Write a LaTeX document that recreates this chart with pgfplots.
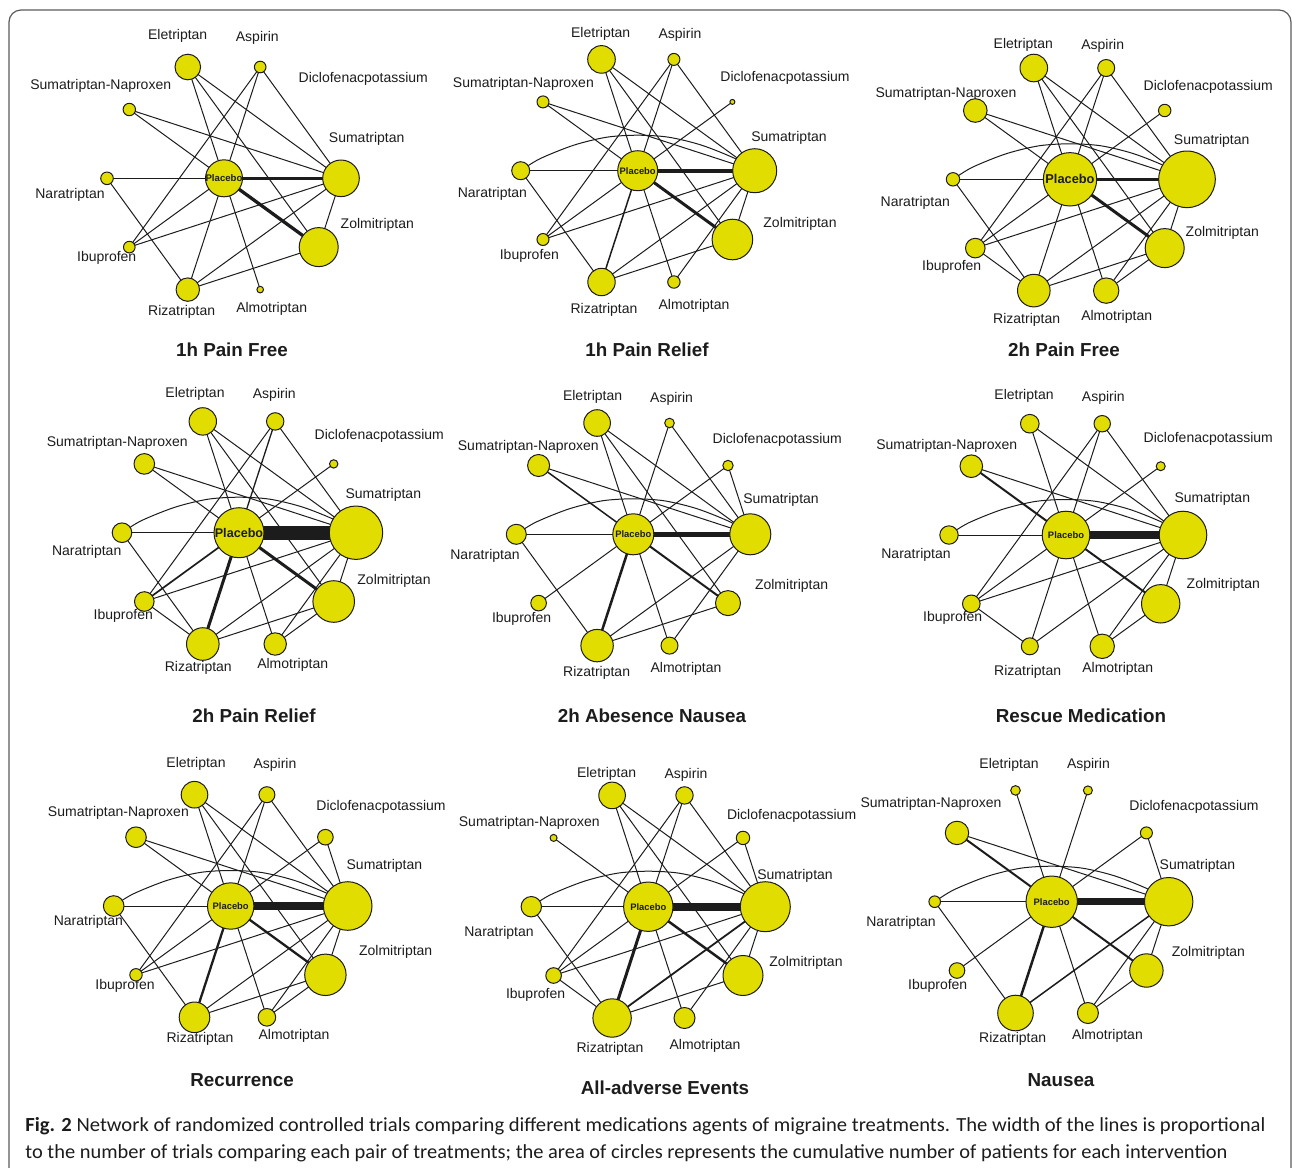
\documentclass[border=0pt]{standalone}
\usepackage{graphicx}
\usepackage{pgfplots}
\usepackage{pgfplotstable}
\pgfplotsset{compat=1.18}
\usepackage{fontspec}
\setmainfont{Liberation Sans}
\newfontfamily\capfont{Carlito}
\definecolor{nodefill}{RGB}{226,221,0}
\definecolor{inkcol}{RGB}{28,28,28}
\definecolor{framecol}{RGB}{90,90,90}

% treatment positions (px, y downwards), Placebo in the middle
\def\xPl{0}\def\yPl{0}
\def\xSu{117}\def\ySu{0}
\def\xDi{94.7}\def\yDi{-68.8}
\def\xAs{36.2}\def\yAs{-111.3}
\def\xEl{-36.2}\def\yEl{-111.3}
\def\xSN{-94.7}\def\ySN{-68.8}
\def\xNa{-117}\def\yNa{0}
\def\xIb{-94.7}\def\yIb{68.8}
\def\xRi{-36.2}\def\yRi{111.3}
\def\xAl{36.2}\def\yAl{111.3}
\def\xZo{94.7}\def\yZo{68.8}

% one comparison: line between two treatments, width ~ number of trials
\newcommand\edge[3][0.5pt]{%
  \edef\edgetmp{\noexpand\addplot[draw=inkcol, line width=#1]
    coordinates {(\csname x#2\endcsname,\csname y#2\endcsname)
                 (\csname x#3\endcsname,\csname y#3\endcsname)};}%
  \edgetmp}
% Naratriptan--Sumatriptan comparison drawn as an arc over Placebo
\newcommand\arcNaSu{\addplot[draw=inkcol, line width=0.5pt, smooth]
  coordinates {(-117,0) (-97.7,-12) (-64,-25.5) (-31,-33.5) (0,-35.5)
               (31,-33.5) (64,-25.5) (97.7,-12) (117,0)};}
% circles, area ~ number of patients
\newcommand\nodes[1]{\addplot[scatter, only marks, mark=*, line width=0.5pt,
  scatter/use mapped color={draw=inkcol, fill=nodefill},
  visualization depends on={0.5*\thisrow{r} \as \rad},
  scatter/@pre marker code/.append style={/tikz/mark size=\rad}]
  table[x=x, y=y] {#1};}
\newcommand\lblfont{\fontsize{7}{8.4}\selectfont}
\newcommand\lab[3]{\node[font=\lblfont, text=inkcol, inner sep=0pt] at (axis cs:#1,#2) {#3};}
\newcommand\ttl[3]{\node[font=\bfseries\fontsize{9.4}{11}\selectfont, text=inkcol, inner sep=0pt] at (axis cs:#1,#2) {#3};}
\newcommand\plc[1]{\node[font=\bfseries\fontsize{#1}{#1}\selectfont, text=inkcol, inner sep=0pt] at (axis cs:0,0) {Placebo};}

\pgfplotsset{net/.style={hide axis, clip=false, anchor=center,
  x=0.5pt, y=0.5pt, y dir=reverse,
  xmin=-200, xmax=200, ymin=-200, ymax=200},
  placebo/.style={after end axis/.append code={\plc{#1}}}}

% patients per treatment (circle radius, px)
\pgfplotstableread{
id x y r
Pl 0 0 18.5
Su 117 0 18.3
As 36.2 -111.3 5.8
El -36.2 -111.3 12.8
SN -94.7 -68.8 6.2
Na -117 0 6.3
Ib -94.7 68.8 5.8
Ri -36.2 111.3 11.7
Al 36.2 111.3 3.3
Zo 94.7 68.8 19.5
}\netA
\pgfplotstableread{
id x y r
Pl 0 0 20
Su 117 0 22
Di 94.7 -68.8 2.5
As 36.2 -111.3 6
El -36.2 -111.3 13.8
SN -94.7 -68.8 6
Na -117 0 9
Ib -94.7 68.8 6
Ri -36.2 111.3 13.7
Al 36.2 111.3 6.2
Zo 94.7 68.8 20.3
}\netB
\pgfplotstableread{
id x y r
Pl 0 0 26.7
Su 117 0 28.3
Di 94.7 -68.8 6.2
As 36.2 -111.3 8.5
El -36.2 -111.3 13.8
SN -94.7 -68.8 11.8
Na -117 0 6.7
Ib -94.7 68.8 9.8
Ri -36.2 111.3 16.3
Al 36.2 111.3 12.7
Zo 94.7 68.8 19.5
}\netC
\pgfplotstableread{
id x y r
Pl 0 0 25
Su 117 0 26.7
Di 94.7 -68.8 4.2
As 36.2 -111.3 8.7
El -36.2 -111.3 13.7
SN -94.7 -68.8 10.3
Na -117 0 9.8
Ib -94.7 68.8 9.8
Ri -36.2 111.3 16.3
Al 36.2 111.3 11.2
Zo 94.7 68.8 20.8
}\netD
\pgfplotstableread{
id x y r
Pl 0 0 20.5
Su 117 0 20.5
Di 94.7 -68.8 5.2
As 36.2 -111.3 4.8
El -36.2 -111.3 13.3
SN -94.7 -68.8 11
Na -117 0 10
Ib -94.7 68.8 7.8
Ri -36.2 111.3 16.2
Al 36.2 111.3 8.5
Zo 94.7 68.8 12.5
}\netE
\pgfplotstableread{
id x y r
Pl 0 0 23.8
Su 117 0 23.8
Di 94.7 -68.8 4.5
As 36.2 -111.3 8.2
El -36.2 -111.3 9.3
SN -94.7 -68.8 11.3
Na -117 0 9.2
Ib -94.7 68.8 8.8
Ri -36.2 111.3 8.5
Al 36.2 111.3 12.2
Zo 94.7 68.8 19.2
}\netF
\pgfplotstableread{
id x y r
Pl 0 0 23.2
Su 117 0 24.3
Di 94.7 -68.8 7.8
As 36.2 -111.3 8
El -36.2 -111.3 13.3
SN -94.7 -68.8 10.3
Na -117 0 10.3
Ib -94.7 68.8 6.2
Ri -36.2 111.3 15.3
Al 36.2 111.3 8.8
Zo 94.7 68.8 20.7
}\netG
\pgfplotstableread{
id x y r
Pl 0 0 24.7
Su 117 0 25
Di 94.7 -68.8 6.7
As 36.2 -111.3 8.7
El -36.2 -111.3 13.3
SN -94.7 -68.8 3.5
Na -117 0 10.2
Ib -94.7 68.8 7.8
Ri -36.2 111.3 19.2
Al 36.2 111.3 10.5
Zo 94.7 68.8 20
}\netH
\pgfplotstableread{
id x y r
Pl 0 0 25.7
Su 117 0 24.2
Di 94.7 -68.8 6
As 36.2 -111.3 4.5
El -36.2 -111.3 4.8
SN -94.7 -68.8 11.7
Na -117 0 5.8
Ib -94.7 68.8 7.8
Ri -36.2 111.3 17.8
Al 36.2 111.3 10.5
Zo 94.7 68.8 16.7
}\netI

\begin{document}
\begin{tikzpicture}[x=0.5pt, y=-0.5pt]
\useasboundingbox (0,0) rectangle (1292,1168);
\draw[framecol, line width=0.6pt, rounded corners=6pt] (9,1180) -- (9,10) -- (1291,10) -- (1291,1180);

% ---- 1h Pain Free
\begin{axis}[net, at={(112pt,-89.15pt)}, placebo=4.8]
\edge[1.65pt]{Pl}{Su} \edge[1.65pt]{Pl}{Zo}
\edge{Pl}{Na} \edge{Pl}{El} \edge{Pl}{As} \edge{Pl}{SN} \edge{Pl}{Ib} \edge{Pl}{Ri} \edge{Pl}{Al}
\edge{El}{Su} \edge{El}{Zo} \edge{As}{Su} \edge{As}{Ib} \edge{SN}{Su} \edge{Na}{Ri}
\edge{Ib}{Su} \edge{Ri}{Su} \edge{Ri}{Zo} \edge{Su}{Zo}
\nodes{\netA}
\lab{-46.3}{-142.3}{Eletriptan} \lab{33.3}{-140}{Aspirin} \lab{139.3}{-99}{Diclofenacpotassium}
\lab{-123.3}{-92.3}{Sumatriptan-Naproxen} \lab{142.7}{-39}{Sumatriptan} \lab{-154}{16.7}{Naratriptan}
\lab{153.3}{46.7}{Zolmitriptan} \lab{-117.3}{79.7}{Ibuprofen} \lab{-42.3}{134}{Rizatriptan} \lab{47.7}{131}{Almotriptan}
\ttl{8}{171.7}{1h Pain Free}
\end{axis}

% ---- 1h Pain Relief
\begin{axis}[net, at={(318.85pt,-85.35pt)}, placebo=4.7]
\edge[2pt]{Pl}{Su} \edge[1.5pt]{Pl}{Zo} \edge[0.75pt]{Pl}{Ri}
\arcNaSu
\edge{Pl}{Na} \edge{Pl}{El} \edge{Pl}{As} \edge{Pl}{SN} \edge{Pl}{Di} \edge{Pl}{Ib} \edge{Pl}{Al}
\edge{El}{Su} \edge{El}{Zo} \edge{As}{Su} \edge{As}{Ib} \edge{SN}{Su} \edge{Na}{Ri}
\edge{Ib}{Su} \edge{Ri}{Su} \edge{Ri}{Zo} \edge{Su}{Zo} \edge{Al}{Su}
\nodes{\netB}
\lab{-37}{-136.7}{Eletriptan} \lab{42.3}{-135.7}{Aspirin} \lab{147.3}{-93.3}{Diclofenacpotassium}
\lab{-114.3}{-87.3}{Sumatriptan-Naproxen} \lab{151.3}{-33.3}{Sumatriptan} \lab{-145.3}{22.7}{Naratriptan}
\lab{162.3}{52.7}{Zolmitriptan} \lab{-108.3}{85.3}{Ibuprofen} \lab{-33.7}{139.3}{Rizatriptan} \lab{56.3}{135.3}{Almotriptan}
\ttl{9.3}{179.3}{1h Pain Relief}
\end{axis}

% ---- 2h Pain Free
\begin{axis}[net, at={(535pt,-89.65pt)}, placebo=6.4]
\edge[1.5pt]{Pl}{Su} \edge[1.5pt]{Pl}{Zo}
\arcNaSu
\edge{Pl}{Na} \edge{Pl}{El} \edge{Pl}{As} \edge{Pl}{SN} \edge{Pl}{Di} \edge{Pl}{Ib} \edge{Pl}{Ri} \edge{Pl}{Al}
\edge{El}{Su} \edge{El}{Zo} \edge{As}{Su} \edge{As}{Ib} \edge{SN}{Su} \edge{Na}{Ri}
\edge{Ib}{Su} \edge{Ib}{Ri} \edge{Ri}{Su} \edge{Ri}{Zo} \edge{Su}{Zo} \edge{Al}{Su} \edge{Al}{Zo}
\nodes{\netC}
\lab{-46.7}{-134.3}{Eletriptan} \lab{32.7}{-133.3}{Aspirin} \lab{138.3}{-92}{Diclofenacpotassium}
\lab{-124}{-85.3}{Sumatriptan-Naproxen} \lab{141.7}{-38.3}{Sumatriptan} \lab{-154.7}{24}{Naratriptan}
\lab{152.3}{54}{Zolmitriptan} \lab{-118.3}{88}{Ibuprofen} \lab{-43.3}{140.7}{Rizatriptan} \lab{46.7}{137.3}{Almotriptan}
\ttl{-6}{170.7}{2h Pain Free}
\end{axis}

% ---- 2h Pain Relief
\begin{axis}[net, at={(119.5pt,-266.35pt)}, placebo=6.3]
\edge[7pt]{Pl}{Su} \edge[1.5pt]{Pl}{Zo} \edge[1.5pt]{Pl}{Ri} \edge[0.85pt]{Pl}{Ib} \edge[0.65pt]{Pl}{As}
\arcNaSu
\edge{Pl}{Na} \edge{Pl}{El} \edge{Pl}{SN} \edge{Pl}{Di} \edge{Pl}{Al}
\edge{El}{Su} \edge{El}{Zo} \edge{As}{Su} \edge{As}{Ib} \edge{SN}{Su} \edge{Na}{Ri}
\edge{Ib}{Su} \edge{Ib}{Ri} \edge{Ri}{Su} \edge{Ri}{Zo} \edge{Su}{Zo} \edge{Al}{Su} \edge{Al}{Zo}
\nodes{\netD}
\lab{-44}{-139.3}{Eletriptan} \lab{35.3}{-138.3}{Aspirin} \lab{140.3}{-96.7}{Diclofenacpotassium}
\lab{-121.7}{-90.3}{Sumatriptan-Naproxen} \lab{144.3}{-37.7}{Sumatriptan} \lab{-152.3}{19}{Naratriptan}
\lab{155}{48.3}{Zolmitriptan} \lab{-115.7}{82.7}{Ibuprofen} \lab{-40.7}{135}{Rizatriptan} \lab{53.7}{132.3}{Almotriptan}
\ttl{15}{183.3}{2h Pain Relief}
\end{axis}

% ---- 2h Absence Nausea
\begin{axis}[net, at={(316.65pt,-267.15pt)}, placebo=4.7]
\edge[2.5pt]{Pl}{Su} \edge[1pt]{Pl}{Zo} \edge[1.25pt]{Pl}{Ri} \edge[0.75pt]{Pl}{SN}
\arcNaSu
\edge{Pl}{Na} \edge{Pl}{El} \edge{Pl}{As} \edge{Pl}{Di} \edge{Pl}{Ib} \edge{Pl}{Al}
\edge{El}{Su} \edge{El}{Zo} \edge{As}{Su} \edge{SN}{Su} \edge{Di}{Su} \edge{Na}{Ri}
\edge{Ri}{Su} \edge{Ri}{Zo} \edge{Al}{Su}
\nodes{\netE}
\lab{-40.7}{-137}{Eletriptan} \lab{38.3}{-135}{Aspirin} \lab{144}{-94.3}{Diclofenacpotassium}
\lab{-105}{-87}{Sumatriptan-Naproxen} \lab{147.7}{-34.3}{Sumatriptan} \lab{-148.3}{21.7}{Naratriptan}
\lab{158.3}{51.7}{Zolmitriptan} \lab{-111.7}{85}{Ibuprofen} \lab{-36.7}{139}{Rizatriptan} \lab{52.7}{135}{Almotriptan}
\ttl{18.7}{181.7}{2h Abesence Nausea}
\end{axis}

% ---- Rescue Medication
\begin{axis}[net, at={(533pt,-267.5pt)}, placebo=4.7]
\edge[4.25pt]{Pl}{Su} \edge[1pt]{Pl}{SN} \edge[1pt]{Pl}{Zo}
\arcNaSu
\edge{Pl}{Na} \edge{Pl}{El} \edge{Pl}{As} \edge{Pl}{Di} \edge{Pl}{Ib} \edge{Pl}{Ri} \edge{Pl}{Al}
\edge{El}{Su} \edge{As}{Su} \edge{As}{Ib} \edge{SN}{Su}
\edge{Ib}{Su} \edge{Ib}{Ri} \edge{Ri}{Su} \edge{Su}{Zo} \edge{Al}{Su} \edge{Al}{Zo}
\nodes{\netF}
\lab{-42}{-139}{Eletriptan} \lab{37.3}{-136.7}{Aspirin} \lab{142.3}{-95.7}{Diclofenacpotassium}
\lab{-119.3}{-89}{Sumatriptan-Naproxen} \lab{146.3}{-36}{Sumatriptan} \lab{-150}{20}{Naratriptan}
\lab{157.3}{50}{Zolmitriptan} \lab{-113.3}{83.3}{Ibuprofen} \lab{-38.3}{137.3}{Rizatriptan} \lab{51.7}{134.3}{Almotriptan}
\ttl{15}{181}{Rescue Medication}
\end{axis}

% ---- Recurrence
\begin{axis}[net, at={(115.35pt,-453pt)}, placebo=4.7]
\edge[3.75pt]{Pl}{Su} \edge[1.15pt]{Pl}{Zo} \edge[1.15pt]{Pl}{Ri}
\arcNaSu
\edge{Pl}{Na} \edge{Pl}{El} \edge{Pl}{As} \edge{Pl}{SN} \edge{Pl}{Di} \edge{Pl}{Ib} \edge{Pl}{Al}
\edge{El}{Su} \edge{El}{Zo} \edge{As}{Su} \edge{As}{Ib} \edge{SN}{Su} \edge{Di}{Su} \edge{Na}{Ri}
\edge{Ib}{Su} \edge{Ri}{Su} \edge{Ri}{Zo} \edge{Su}{Zo} \edge{Al}{Su} \edge{Al}{Zo}
\nodes{\netG}
\lab{-34.7}{-141.7}{Eletriptan} \lab{44.3}{-141}{Aspirin} \lab{150.3}{-98.7}{Diclofenacpotassium}
\lab{-112.3}{-93.3}{Sumatriptan-Naproxen} \lab{153.7}{-40}{Sumatriptan} \lab{-142.3}{16.3}{Naratriptan}
\lab{165}{46.3}{Zolmitriptan} \lab{-105.7}{80}{Ibuprofen} \lab{-30.7}{133}{Rizatriptan} \lab{63.3}{130}{Almotriptan}
\ttl{11.3}{174}{Recurrence}
\end{axis}

% ---- All-adverse Events
\begin{axis}[net, at={(324.15pt,-453.35pt)}, placebo=4.7]
\edge[4pt]{Pl}{Su} \edge[1.25pt]{Pl}{Zo} \edge[1.5pt]{Pl}{Ri} \edge[0.9pt]{Ri}{Su}
\arcNaSu
\edge{Pl}{Na} \edge{Pl}{El} \edge{Pl}{As} \edge{Pl}{SN} \edge{Pl}{Di} \edge{Pl}{Ib} \edge{Pl}{Al}
\edge{El}{Su} \edge{El}{Zo} \edge{As}{Su} \edge{As}{Ib} \edge{Di}{Su} \edge{Na}{Ri}
\edge{Ib}{Su} \edge{Ib}{Ri} \edge{Ri}{Zo} \edge{Su}{Zo} \edge{Al}{Su}
\nodes{\netH}
\lab{-41.7}{-133.3}{Eletriptan} \lab{37.7}{-131.7}{Aspirin} \lab{143.3}{-90.7}{Diclofenacpotassium}
\lab{-119}{-84}{Sumatriptan-Naproxen} \lab{146.7}{-30.7}{Sumatriptan} \lab{-149.3}{25.7}{Naratriptan}
\lab{157.7}{55.7}{Zolmitriptan} \lab{-112.7}{88.3}{Ibuprofen} \lab{-38.3}{142.3}{Rizatriptan} \lab{56.7}{139.3}{Almotriptan}
\ttl{16.7}{181.3}{All-adverse Events}
\end{axis}

% ---- Nausea
\begin{axis}[net, at={(525.85pt,-450.85pt)}, placebo=4.7]
\edge[3.25pt]{Pl}{Su} \edge[1pt]{Pl}{SN} \edge[1pt]{Pl}{Zo} \edge[1.25pt]{Pl}{Ri} \edge[0.75pt]{Ri}{Su}
\arcNaSu
\edge{Pl}{Na} \edge{Pl}{El} \edge{Pl}{As} \edge{Pl}{Di} \edge{Pl}{Ib} \edge{Pl}{Al}
\edge{SN}{Su} \edge{Di}{Su} \edge{Na}{Ri} \edge{Su}{Zo} \edge{Al}{Su} \edge{Al}{Zo}
\nodes{\netI}
\lab{-42.7}{-137.3}{Eletriptan} \lab{36.7}{-136.7}{Aspirin} \lab{142.3}{-95}{Diclofenacpotassium}
\lab{-120.7}{-98.3}{Sumatriptan-Naproxen} \lab{145.7}{-35.7}{Sumatriptan} \lab{-150.7}{20.7}{Naratriptan}
\lab{156.7}{50.7}{Zolmitriptan} \lab{-114}{84.3}{Ibuprofen} \lab{-39}{137.3}{Rizatriptan} \lab{55.7}{134.3}{Almotriptan}
\ttl{9.3}{178.3}{Nausea}
\end{axis}

% ---- caption
\node[anchor=base west, inner sep=0pt, text=inkcol, font=\capfont\fontsize{10}{12}\selectfont] at (25,1131)
  {\resizebox{620pt}{\height}{\textbf{Fig. 2} Network of randomized controlled trials comparing different medications agents of migraine treatments. The width of the lines is proportional}};
\node[anchor=base west, inner sep=0pt, text=inkcol, font=\capfont\fontsize{10}{12}\selectfont] at (25,1158)
  {\resizebox{601pt}{\height}{to the number of trials comparing each pair of treatments; the area of circles represents the cumulative number of patients for each intervention}};
\end{tikzpicture}
\end{document}
